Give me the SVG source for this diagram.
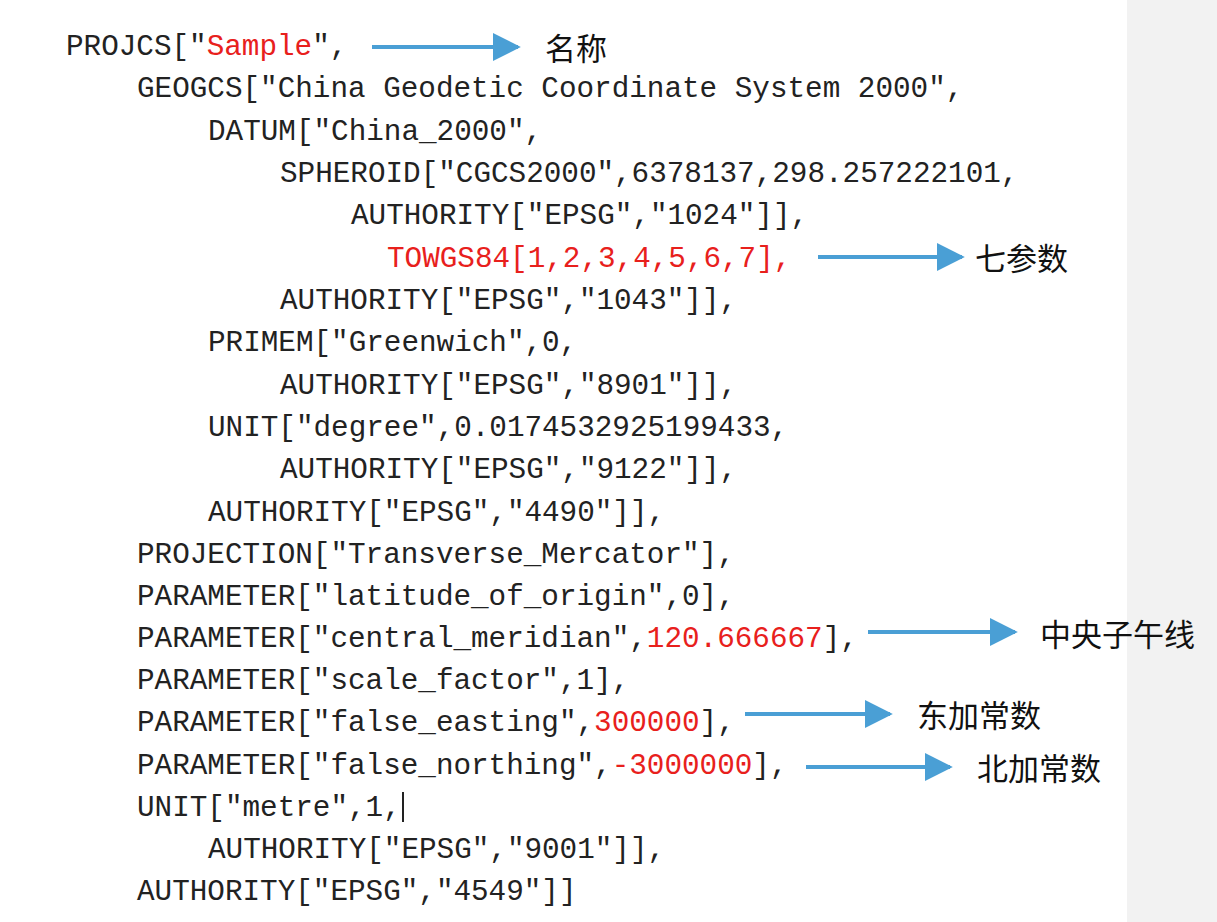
<svg xmlns="http://www.w3.org/2000/svg" width="1217" height="922" viewBox="0 0 1217 922">
<style>
.c{font-family:"Liberation Mono","DejaVu Sans Mono",monospace;font-size:29.3px;fill:#222}
.r{fill:#e8201c}
.l{font-family:"Noto Sans CJK SC",sans-serif;font-size:31px;fill:#111;dominant-baseline:central}
.a{stroke:#4a9fd5;stroke-width:4;fill:none}
</style>
<defs>
<marker id="ahx" viewBox="0 0 10 10" refX="9" refY="5" markerWidth="28" markerHeight="28" markerUnits="userSpaceOnUse" orient="auto"><path d="M0,0L10,5L0,10Z" fill="#4a9fd5"/></marker></defs>
<rect width="1217" height="922" fill="#fff"/>
<rect x="1127" y="0" width="90" height="922" fill="#f2f2f2"/>
<g id="code">
<text class="c" x="66" y="55">PROJCS["<tspan class="r">Sample</tspan>",</text>
<text class="c" x="137" y="97">GEOGCS["China Geodetic Coordinate System 2000",</text>
<text class="c" x="208" y="140">DATUM["China_2000",</text>
<text class="c" x="280" y="182">SPHEROID["CGCS2000",6378137,298.257222101,</text>
<text class="c" x="351" y="224">AUTHORITY["EPSG","1024"]],</text>
<text class="c r" x="387" y="267">TOWGS84[1,2,3,4,5,6,7],</text>
<text class="c" x="280" y="309">AUTHORITY["EPSG","1043"]],</text>
<text class="c" x="208" y="351">PRIMEM["Greenwich",0,</text>
<text class="c" x="280" y="394">AUTHORITY["EPSG","8901"]],</text>
<text class="c" x="208" y="436">UNIT["degree",0.0174532925199433,</text>
<text class="c" x="280" y="478">AUTHORITY["EPSG","9122"]],</text>
<text class="c" x="208" y="521">AUTHORITY["EPSG","4490"]],</text>
<text class="c" x="137" y="563">PROJECTION["Transverse_Mercator"],</text>
<text class="c" x="137" y="605">PARAMETER["latitude_of_origin",0],</text>
<text class="c" x="137" y="647">PARAMETER["central_meridian",<tspan class="r">120.666667</tspan>],</text>
<text class="c" x="137" y="689">PARAMETER["scale_factor",1],</text>
<text class="c" x="137" y="731">PARAMETER["false_easting",<tspan class="r">300000</tspan>],</text>
<text class="c" x="137" y="774">PARAMETER["false_northing",<tspan class="r">-3000000</tspan>],</text>
<text class="c" x="137" y="816">UNIT["metre",1,</text>
<line x1="403" y1="792" x2="403" y2="822" stroke="#222" stroke-width="2"/>
<text class="c" x="208" y="858">AUTHORITY["EPSG","9001"]],</text>
<text class="c" x="137" y="900">AUTHORITY["EPSG","4549"]]</text>
</g>
<g id="connectors">
<line class="a" x1="372" y1="47" x2="518" y2="47" marker-end="url(#ahx)"/>
<line class="a" x1="818" y1="257" x2="962" y2="257" marker-end="url(#ahx)"/>
<line class="a" x1="868" y1="632" x2="1015" y2="632" marker-end="url(#ahx)"/>
<line class="a" x1="745" y1="714" x2="890" y2="714" marker-end="url(#ahx)"/>
<line class="a" x1="806" y1="767" x2="950" y2="767" marker-end="url(#ahx)"/>
</g>
<g id="n1"><text class="l" x="545" y="46">名称</text></g>
<g id="n2"><text class="l" x="975" y="256">七参数</text></g>
<g id="n3"><text class="l" x="1040" y="632">中央子午线</text></g>
<g id="n4"><text class="l" x="917" y="713">东加常数</text></g>
<g id="n5"><text class="l" x="977" y="766">北加常数</text></g>
</svg>
